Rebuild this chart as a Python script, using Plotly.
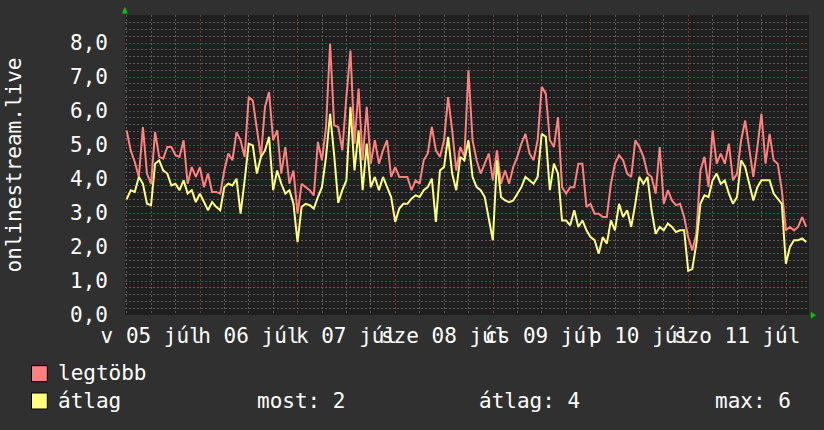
import plotly.graph_objects as go
import pandas as pd

# ---------------- data ----------------
legtobb = [
    5.43, 4.84, 4.5, 4.06, 5.53, 4.16, 3.86, 5.38, 4.65, 4.6, 4.94, 4.94, 4.7, 4.65, 5.14, 3.86,
    4.35, 4.06, 4.35, 3.76, 4.16, 3.62, 3.62, 3.57, 4.25, 4.75, 4.55, 5.38, 5.14, 4.65, 6.41, 6.31,
    5.48, 4.65, 6.12, 6.56, 5.14, 5.43, 4.16, 4.94, 3.86, 4.25, 2.98,
    3.86, 3.76, 3.67, 3.52, 5.09, 4.55, 5.53, 7.98, 5.58, 5.53, 4.84, 6.41, 7.78, 5.04, 6.66, 4.55,
    6.12, 4.45, 5.14, 4.45, 4.84, 5.14, 4.06, 4.35, 4.06, 4.06, 4.06, 3.67, 3.96, 3.86, 4.55, 4.75,
    5.53, 4.84, 4.65, 5.14, 6.41, 5.43, 4.25, 4.94, 4.65, 7.2, 5.14,
    4.55, 4.16, 4.45, 4.75, 3.96, 4.84, 3.86, 4.25, 3.86, 4.35, 4.65, 5.04, 5.33, 4.75, 4.55, 5.14,
    6.71, 6.51, 5.14, 4.94, 5.82, 3.76, 3.57, 3.76, 3.76, 4.45, 4.45, 3.18, 3.27, 2.98, 2.98, 2.88,
    2.88, 3.86, 4.45, 4.7, 4.55, 4.16, 4.06, 5.14, 4.94, 4.65, 4.16,
    4.06, 3.57, 4.94, 3.27, 3.67, 3.37, 3.23, 3.27, 2.88, 2.29, 1.9, 2.39, 4.25, 4.65, 3.76, 5.43,
    4.45, 4.75, 4.45, 5.04, 3.96, 4.16, 5.14, 5.72, 4.84, 4.06, 4.94, 5.92, 4.45, 5.33, 4.55, 4.45,
    3.67, 2.49, 2.59, 2.49, 2.59, 2.88, 2.59,
]
atlag = [
    3.4, 3.67, 3.62, 4.06, 3.86, 3.27, 3.23, 4.45, 4.55, 4.25, 4.16, 3.81, 3.86, 3.67, 3.96, 3.57,
    3.67, 3.32, 3.57, 3.32, 3.08, 3.32, 3.18, 3.08, 3.76, 3.86, 3.81, 4.01, 2.98, 3.96, 5.04, 4.99,
    4.16, 4.65, 4.84, 5.24, 3.67, 4.25, 3.86, 3.57, 3.67, 3.27, 2.14,
    3.18, 3.27, 3.23, 3.13, 3.47, 3.76, 4.65, 5.92, 4.7, 3.3, 3.67, 3.96, 6.12, 4.25, 5.43, 3.67,
    5.04, 3.76, 4.06, 3.67, 4.06, 3.76, 3.47, 2.74, 3.13, 3.27, 3.27, 3.42, 3.52, 3.47, 3.67, 3.76,
    4.01, 2.74, 4.25, 4.35, 5.24, 4.16, 3.67, 4.65, 4.55, 5.14, 4.06,
    3.76, 3.67, 3.47, 2.78, 2.2, 4.55, 3.47, 3.37, 3.32, 3.37, 3.57, 3.76, 4.06, 3.96, 3.86, 4.06,
    5.33, 5.24, 3.67, 4.45, 4.16, 2.78, 2.78, 2.64, 3.08, 2.59, 2.78, 2.49, 2.29, 2.2, 1.8, 2.29,
    2.1, 2.78, 2.49, 3.27, 2.88, 3.08, 2.59, 3.27, 4.06, 3.86, 4.06,
    3.08, 2.39, 2.59, 2.49, 2.69, 2.59, 2.44, 2.49, 2.49, 1.3, 1.35, 2.1, 3.27, 3.52, 3.47, 3.96,
    4.16, 3.86, 3.96, 3.57, 3.27, 3.47, 4.55, 4.35, 3.86, 3.37, 3.76, 3.96, 3.96, 3.96, 3.57, 3.42,
    3.27, 1.51, 2.0, 2.2, 2.2, 2.25, 2.15,
]
series_names = ["legtöbb", "átlag"]
day_labels = ["v 05 júl", "h 06 júl", "k 07 júl", "sze 08 júl", "cs 09 júl", "p 10 júl", "szo 11 júl"]
y_ticks = [0, 1, 2, 3, 4, 5, 6, 7, 8]
y_ticktext = ["0,0", "1,0", "2,0", "3,0", "4,0", "5,0", "6,0", "7,0", "8,0"]
stat_labels = ["most: 2", "átlag: 4", "max: 6"]
y_title = "onlinestream.live"

times = pd.date_range("2020-07-05 05:58", periods=len(legtobb), freq="h")
noons = pd.date_range("2020-07-05 12:00", periods=len(day_labels), freq="D")
x_range = ["2020-07-05 05:34", "2020-07-12 05:39"]

# ---------------- style ----------------
W, H = 824, 430
ML, MR, MT, MB = 125, 15, 15, 115
PW, PH = W - ML - MR, H - MT - MB
FONT = "DejaVu Sans Mono"
PAPER = "#303030"
CANVAS = "#1f1f1f"
RED_GRID = "rgb(125,55,55)"
GREY_GRID = "rgb(92,92,92)"
RED = "#ff8080"
YELLOW = "#ffff80"
TXT = "#ffffff"


def px(x):
    return (x - ML) / PW


def py(y):
    return (MT + PH - y) / PH


fig = go.Figure()
fig.add_trace(go.Scatter(x=times, y=legtobb, mode="lines", name=series_names[0],
                         line=dict(color=RED, width=2), showlegend=False))
fig.add_trace(go.Scatter(x=times, y=atlag, mode="lines", name=series_names[1],
                         line=dict(color=YELLOW, width=2), showlegend=False))
# invisible anchor traces for the overlay axes
fig.add_trace(go.Scatter(x=[times[0]], y=[None], xaxis="x2", yaxis="y",
                         mode="lines", showlegend=False, hoverinfo="skip"))
fig.add_trace(go.Scatter(x=[times[0]], y=[None], xaxis="x3", yaxis="y",
                         mode="lines", showlegend=False, hoverinfo="skip"))

fig.update_layout(
    width=W, height=H,
    margin=dict(l=ML, r=MR, t=MT, b=MB, pad=0),
    paper_bgcolor=PAPER, plot_bgcolor=CANVAS,
    font=dict(family=FONT, size=21, color=TXT),
    showlegend=False,
    # 6-hour grey grid
    xaxis=dict(
        type="date", range=x_range,
        tickmode="linear", tick0="2020-07-06 00:00", dtick=21600000,
        showticklabels=False, ticks="",
        showgrid=True, gridcolor=GREY_GRID, gridwidth=1, griddash="2px,2px",
        zeroline=False, showline=False,
    ),
    # day labels at noon
    xaxis2=dict(
        type="date", overlaying="x", matches="x", side="bottom", range=x_range,
        tickmode="array", tickvals=list(noons), ticktext=day_labels,
        tickangle=0, ticks="", showgrid=False, zeroline=False, showline=False,
        ticklabelstandoff=6, tickfont=dict(family=FONT, size=21, color=TXT),
    ),
    # red midnight grid
    xaxis3=dict(
        type="date", overlaying="x", matches="x", side="bottom", range=x_range,
        tickmode="linear", tick0="2020-07-06 00:00", dtick=86400000,
        showticklabels=False, ticks="",
        showgrid=True, gridcolor=RED_GRID, gridwidth=1, griddash="2px,2px",
        zeroline=False, showline=False,
    ),
    yaxis=dict(
        range=[0, PH / 34.0],
        tickmode="array", tickvals=y_ticks, ticktext=y_ticktext,
        ticks="", ticklabelstandoff=16,
        showgrid=True, gridcolor=RED_GRID, gridwidth=1, griddash="2px,2px",
        minor=dict(tickmode="linear", tick0=0, dtick=0.2, showgrid=True,
                   gridcolor=GREY_GRID, gridwidth=1, griddash="2px,2px", ticks=""),
        zeroline=False, showline=False,
        title=dict(text=y_title, standoff=42, font=dict(family=FONT, size=21, color=TXT)),
    ),
)

shapes = []
# legend swatches
for (y0, y1, col) in [(365.7, 381.7, RED), (393, 409, YELLOW)]:
    shapes.append(dict(type="rect", xref="paper", yref="paper",
                       x0=px(31.5), x1=px(47.3), y0=py(y1), y1=py(y0),
                       fillcolor=col, line=dict(color="#000000", width=1)))
# green arrows
shapes.append(dict(type="path", xref="paper", yref="paper", xsizemode="pixel", ysizemode="pixel",
                   xanchor=0, yanchor=1, path="M -2.7,1.7 L 2.3,1.7 L -0.2,7.7 Z",
                   fillcolor="#00c800", line=dict(color="#00c800", width=0.5)))
shapes.append(dict(type="path", xref="paper", yref="paper", xsizemode="pixel", ysizemode="pixel",
                   xanchor=1, yanchor=0, path="M 2,2.7 L 2,-3.3 L 6.7,-0.3 Z",
                   fillcolor="#00c800", line=dict(color="#00c800", width=0.5)))
fig.update_layout(shapes=shapes)

ann = []
ann.append(dict(text=series_names[0], x=px(56), y=py(373), xref="paper", yref="paper",
                xanchor="left", yanchor="middle", showarrow=False))
ann.append(dict(text=series_names[1], x=px(56), y=py(401), xref="paper", yref="paper",
                xanchor="left", yanchor="middle", showarrow=False))
for lab, xx in zip(stat_labels, [255, 477, 713]):
    ann.append(dict(text=lab, x=px(xx), y=py(401), xref="paper", yref="paper",
                    xanchor="left", yanchor="middle", showarrow=False))
fig.update_layout(annotations=ann)

fig.write_html("out.html")
